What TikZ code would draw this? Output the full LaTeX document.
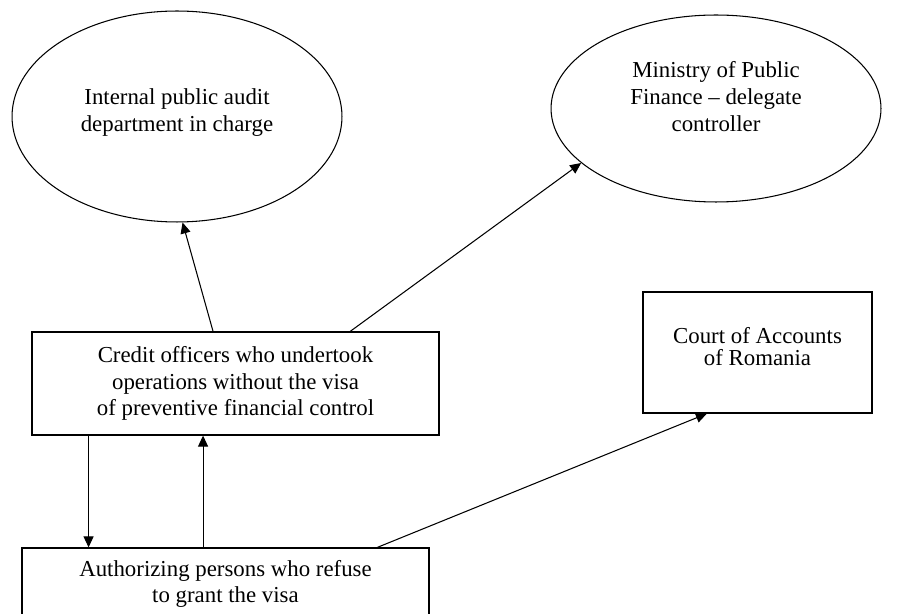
\documentclass[tikz,border=0pt]{standalone}
\usepackage{fontspec}
\setmainfont{Liberation Serif}
\usetikzlibrary{arrows.meta, shapes.geometric, calc}

\begin{document}
\begin{tikzpicture}[
    x=0.02cm, y=-0.02cm,
    oval/.style={ellipse, draw=black, line width=0.6pt, minimum width=6.6cm, align=center, font=\fontsize{13}{15.2}\selectfont},
    box/.style={rectangle, draw=black, line width=0.7pt, minimum width=8.14cm, align=center, font=\fontsize{13}{15.2}\selectfont},
    arrow/.style={-{Triangle[length=2.2mm, width=2mm]}, line width=0.6pt},
]
\useasboundingbox (0,0) rectangle (901,614);

% Control bodies (top)
\node[oval, minimum height=4.22cm, text depth=0.27cm] (audit) at (177,116.5) {Internal public audit\\department in charge};
\node[oval, minimum height=3.74cm, text depth=0.48cm] (ministry) at (716,108.5) {Ministry of Public\\Finance -- delegate\\controller};
\node[box, minimum width=4.58cm, minimum height=2.42cm, text depth=0.24cm, font=\fontsize{13}{12.5}\selectfont] (court) at (757.5,352.5) {Court of Accounts\\of Romania};

% Persons involved
\node[box, minimum height=2.06cm] (credit) at (235.5,383.5) {Credit officers who undertook\\operations without the visa\\of preventive financial control};
\node[box, minimum height=1.44cm] (auth) at (225.5,584) {Authorizing persons who refuse\\to grant the visa};

% Arrows
\draw[arrow] ($(credit.north west)!0.445!(credit.north east)$) -- (audit.-87);
\draw[arrow] ($(credit.north west)!0.781!(credit.north east)$) -- (ministry.202);
\draw[arrow] ($(credit.south west)!0.14!(credit.south east)$) coordinate (down) -- (down |- auth.north);
\draw[arrow] ($(auth.north west)!0.445!(auth.north east)$) coordinate (up) -- (up |- credit.south);
\draw[arrow] ($(auth.north west)!0.872!(auth.north east)$) -- ($(court.south west)!0.28!(court.south east)$);

\end{tikzpicture}
\end{document}
